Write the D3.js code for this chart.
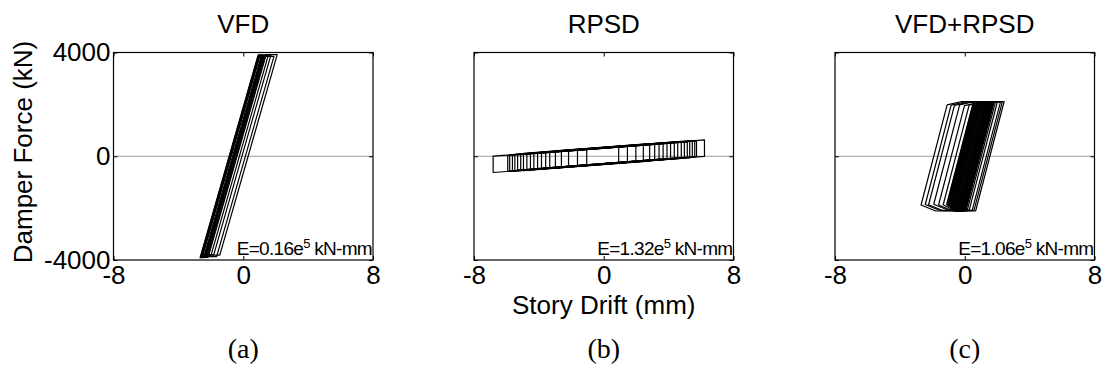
<!DOCTYPE html>
<html>
<head>
<meta charset="utf-8">
<script src="https://cdn.jsdelivr.net/npm/d3@7"></script>
<style>
  body { margin: 0; background: #fff; }
  svg text { font-family: "Liberation Sans", Arial, sans-serif; fill: #000; }
  svg .tag { font-family: "Liberation Serif", "Times New Roman", serif; }
</style>
</head>
<body>
<div id="chart"></div>
<script>
const panelTitles = ["VFD", "RPSD", "VFD+RPSD"];
const panelTags = ["(a)", "(b)", "(c)"];
const energyText = ["0.16", "1.32", "1.06"];
const driftTicks = [-8, 0, 8];
const forceTicks = [-4000, 0, 4000];

// VFD cycles: drift of the loading/unloading branches at zero force (mm), peak forces (kN)
const vfdLeft = [-0.87, -0.85, -0.83, -0.80, -0.77, -0.74, -0.66, -0.55, -0.42];
const vfdRight = [-0.62, -0.58, -0.52, -0.47, -0.38, -0.24, -0.08, 0.13, 0.30];
const vfdFmax = [3910, 3880, 3860, 3900, 3830, 3870, 3900, 3850, 3920];
const vfdFmin = [-3910, -3870, -3890, -3830, -3900, -3850, -3790, -3870, -3810];
const vfdStiffness = 2184; // kN/mm

// RPSD cycles: negative and positive drift peaks (mm), slip force (kN)
const rpsdNeg = [-6.82, -5.92, -5.80, -5.63, -5.48, -5.31, -5.12, -4.95, -4.74, -4.52,
                 -4.31, -4.08, -3.84, -3.58, -3.33, -2.98, -2.61, -2.17, -1.62, -1.05];
const rpsdPos = [6.21, 5.72, 5.61, 5.46, 5.30, 5.15, 4.97, 4.78, 4.56, 4.35,
                 4.12, 3.90, 3.66, 3.41, 3.14, 2.83, 2.44, 1.98, 1.46, 0.92];
const rpsdFy = [315, 300, 320, 305, 325, 295, 315, 330, 300, 320,
                290, 310, 325, 300, 315, 335, 295, 320, 305, 310];
const rpsdSlope = 48;     // kN/mm
const rpsdOffset = 15;    // kN

// VFD+RPSD cycles: branch drifts at zero force (mm), peak forces (kN)
const hybLeft = [-1.91, -1.66, -1.45, -1.14, -0.83, -0.55, -0.34, -0.31, -0.27, -0.24,
                 -0.21, -0.17, -0.14, -0.10, -0.07, -0.03, 0.01, 0.05, 0.08, 0.12,
                 0.16, 0.19, 0.23, 0.27];
const hybRight = [1.55, 1.44, 1.33, 1.14, 1.02, 0.94, 0.91, 0.88, 0.84, 0.81,
                  0.78, 0.75, 0.71, 0.68, 0.65, 0.62, 0.58, 0.55, 0.52, 0.48,
                  0.45, 0.42, 0.38, 0.35];
const hybFmax = [2110, 2100, 2090, 2110, 2080, 2100, 2090, 2110, 2100, 2080,
                 2100, 2090, 2110, 2100, 2080, 2090, 2100, 2110, 2090, 2100,
                 2080, 2100, 2090, 2110];
const hybFmin = [-2110, -2090, -2100, -2080, -2110, -2100, -2090, -2100, -2110, -2080,
                 -2100, -2090, -2100, -2080, -2100, -2090, -2100, -2110, -2090, -2080,
                 -2100, -2110, -2090, -2100];
const hybStiffness = 2400; // kN/mm
const hybKneeTop = 130, hybKneeBottom = 230, hybKneeDrift = 0.9;

// loop polygons in (drift, force)
const vfdLoops = vfdLeft.map((l, i) => {
    const r = vfdRight[i], hi = vfdFmax[i], lo = vfdFmin[i], k = vfdStiffness;
    return [[l + lo / k, lo], [l + hi / k, hi], [r + hi / k, hi], [r + lo / k, lo]];
});

const rpsdLoops = rpsdNeg.map((n, i) => {
    const p = rpsdPos[i], fy = rpsdFy[i];
    const top = d => rpsdSlope * d + fy + rpsdOffset;
    const bot = d => rpsdSlope * d - fy + rpsdOffset;
    return [[n, bot(n)], [n, top(n)], [p, top(p)], [p, bot(p)]];
});

const hybLoops = hybLeft.map((l, i) => {
    const r = hybRight[i], hi = hybFmax[i], lo = hybFmin[i], k = hybStiffness;
    const tl = l + (hi - hybKneeTop) / k;
    const bl = l + (lo + hybKneeBottom) / k;
    const tr = r + hi / k, br = r + lo / k;
    const kt = Math.min(hybKneeDrift, (tr - tl) * 0.5);
    const kb = Math.min(hybKneeDrift, (br - bl) * 0.5);
    return [[bl, lo + hybKneeBottom], [tl, hi - hybKneeTop], [tl + kt, hi], [tr, hi],
            [br, lo], [bl + kb, lo]];
});

const panelLoops = [vfdLoops, rpsdLoops, hybLoops];

const width = 1106, height = 371;
const plotLeft = [113.5, 474, 835];
const plotTop = 52.5, plotW = 259.5, plotH = 207.5;

const svg = d3.select("#chart").append("svg")
    .attr("width", width)
    .attr("height", height);

const x = d3.scaleLinear().domain([-8, 8]).range([0, plotW]);
const y = d3.scaleLinear().domain([-4000, 4000]).range([plotH, 0]);
const line = d3.line().x(p => x(p[0])).y(p => y(p[1]));
const plain = d => String(d); // hyphen minus, as in the original labels

panelLoops.forEach((loops, i) => {
    const g = svg.append("g").attr("transform", `translate(${plotLeft[i]},${plotTop})`);

    g.append("line")
        .attr("x1", 0).attr("x2", plotW)
        .attr("y1", y(0)).attr("y2", y(0))
        .attr("stroke", "#9a9a9a")
        .attr("stroke-width", 1);

    g.selectAll(".loop")
        .data(loops)
        .enter().append("path")
        .attr("class", "loop")
        .attr("d", d => line(d) + "Z")
        .attr("fill", "none")
        .attr("stroke", "#000")
        .attr("stroke-width", 1.2)
        .attr("stroke-linejoin", "round");

    g.append("rect")
        .attr("width", plotW).attr("height", plotH)
        .attr("fill", "none")
        .attr("stroke", "#000")
        .attr("stroke-width", 1.2);

    // inward ticks on all four sides, labels only bottom (and left on first panel)
    const bottom = g.append("g").attr("transform", `translate(0,${plotH})`)
        .call(d3.axisBottom(x).tickValues(driftTicks).tickSizeInner(-4).tickSizeOuter(0)
            .tickPadding(6).tickFormat(plain));
    g.append("g")
        .call(d3.axisTop(x).tickValues(driftTicks).tickSizeInner(-4).tickSizeOuter(0).tickFormat(""));
    const left = g.append("g")
        .call(d3.axisLeft(y).tickValues(forceTicks).tickSizeInner(-4).tickSizeOuter(0).tickPadding(3)
            .tickFormat(i === 0 ? plain : ""));
    g.append("g").attr("transform", `translate(${plotW},0)`)
        .call(d3.axisRight(y).tickValues(forceTicks).tickSizeInner(-4).tickSizeOuter(0).tickFormat(""));

    g.selectAll(".domain").remove();
    g.selectAll(".tick line").attr("stroke", "#000");
    bottom.selectAll("text").style("font-size", "26px").attr("font-family", null);
    left.selectAll("text").style("font-size", "26px").attr("font-family", null);

    const note = g.append("text")
        .attr("x", plotW - 1)
        .attr("y", plotH - 5)
        .attr("text-anchor", "end")
        .style("font-size", "19px")
        .style("letter-spacing", "-0.7px");
    note.append("tspan").text(`E=${energyText[i]}e`);
    note.append("tspan").attr("dy", -7).style("font-size", "13px").text("5");
    note.append("tspan").attr("dy", 7).text(" kN-mm");

    svg.append("text")
        .attr("x", plotLeft[i] + plotW / 2)
        .attr("y", 33)
        .attr("text-anchor", "middle")
        .style("font-size", "26px")
        .text(panelTitles[i]);

    svg.append("text")
        .attr("class", "tag")
        .attr("x", plotLeft[i] + plotW / 2)
        .attr("y", 358)
        .attr("text-anchor", "middle")
        .style("font-size", "28px")
        .text(panelTags[i]);
});

svg.append("text")
    .attr("transform", "translate(32,152) rotate(-90)")
    .attr("text-anchor", "middle")
    .style("font-size", "26px")
    .text("Damper Force (kN)");

svg.append("text")
    .attr("x", plotLeft[1] + plotW / 2)
    .attr("y", 314)
    .attr("text-anchor", "middle")
    .style("font-size", "26px")
    .text("Story Drift (mm)");
</script>
</body>
</html>
